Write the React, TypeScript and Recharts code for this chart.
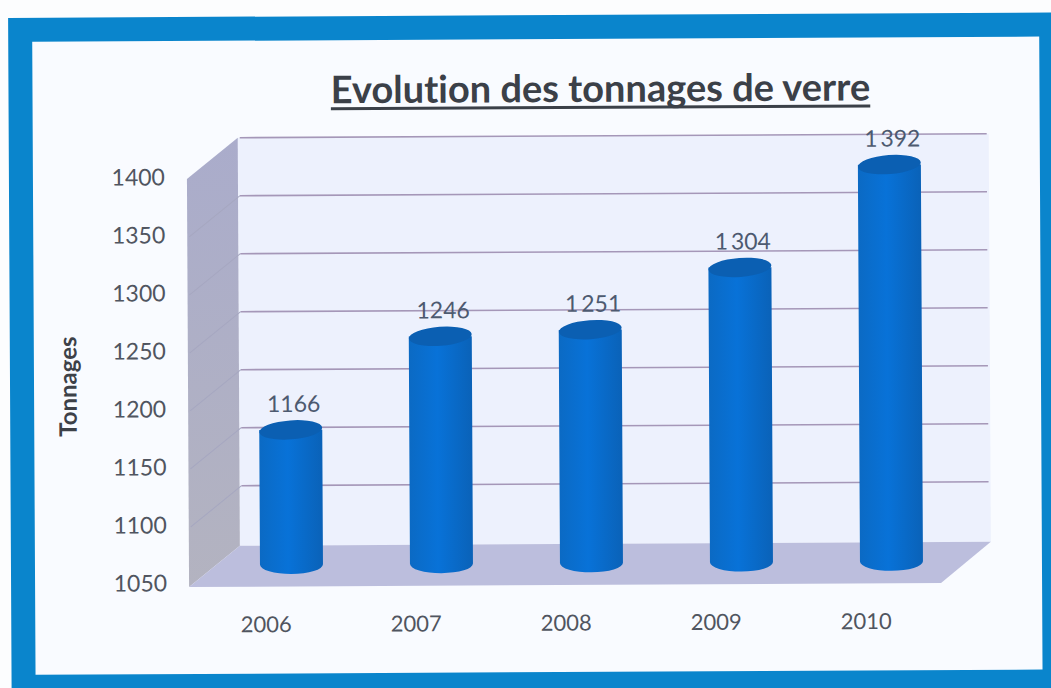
import { BarChart, Bar, XAxis, YAxis, CartesianGrid, LabelList } from 'recharts';

const years = ['2006', '2007', '2008', '2009', '2010'];
const tonnages = [1166, 1246, 1251, 1304, 1392];
const valueLabels = ['1166', '1246', '1 251', '1 304', '1 392'];
const yTicks = [1050, 1100, 1150, 1200, 1250, 1300, 1350, 1400];

const data = years.map((year, i) => ({ year, tonnage: tonnages[i], label: valueLabels[i] }));

const FONT = 'Lato, "Open Sans", sans-serif';
const DEPTH_X = 51;
const DEPTH_Y = 41;
const BAR_DX = 25;
const BAR_DY = 20;

// 3D look: grid lines run along the side wall and then across the back wall
function GridLine(props: any) {
  const { x1, x2, y1, index } = props;
  return (
    <g key={index}>
      {y1 > 180 && y1 < 580 && <line x1={x1} y1={y1} x2={x1 + DEPTH_X} y2={y1 - DEPTH_Y} stroke="#a6a7c0" strokeWidth={1} />}
      {y1 < 580 && <line x1={x1 + DEPTH_X} y1={y1 - DEPTH_Y} x2={x2 + 48} y2={y1 - DEPTH_Y} stroke="#a597b8" strokeWidth={1.6} />}
    </g>
  );
}

function Cylinder(props: any) {
  const { x, y, width, height, index } = props;
  const left = x + BAR_DX;
  const right = left + width;
  const top = y - BAR_DY;
  const bottom = y + height - BAR_DY;
  const rx = width / 2;
  const ry = 9.5;
  const id = `cyl-${index}`;
  return (
    <g>
      <defs>
        <linearGradient id={id} x1="0" x2="1" y1="0" y2="0">
          <stop offset="0" stopColor="#0b6ac4" />
          <stop offset="0.45" stopColor="#0872d8" />
          <stop offset="1" stopColor="#0a62b8" />
        </linearGradient>
      </defs>
      <path
        d={`M${left} ${top} L${left} ${bottom} A${rx} ${ry} 0 0 0 ${right} ${bottom} L${right} ${top} Z`}
        fill={`url(#${id})`}
      />
      <ellipse cx={left + rx} cy={top} rx={rx} ry={ry} fill="#0b5fb2" transform={`rotate(-4 ${left + rx} ${top})`} />
    </g>
  );
}

function ValueLabel(props: any) {
  const { x, y, width, value } = props;
  return (
    <text
      x={x + width / 2 + BAR_DX + 3}
      y={y - 38}
      textAnchor="middle"
      fontFamily={FONT}
      fontSize={23}
      wordSpacing={-3}
      fill="#4d5a70"
    >
      {value}
    </text>
  );
}

export default function App() {
  return (
    <div style={{ position: 'absolute', left: 0, top: 0, width: 1051, height: 688, overflow: 'hidden', background: '#fcfdfe' }}>
      <div style={{ position: 'absolute', left: 0, top: 0, width: 1051, height: 688, transform: 'rotate(-0.3deg)', transformOrigin: '566px 380px' }}>
        <div
          style={{
            position: 'absolute',
            left: 10,
            top: 15,
            width: 1007,
            height: 633,
            background: '#f9fbff',
            borderStyle: 'solid',
            borderColor: '#0a85cc',
            borderWidth: '24px 30px 40px 24px',
          }}
        />
        <svg width={1051} height={688} style={{ position: 'absolute', left: 0, top: 0 }}>
          <defs>
            <linearGradient id="side" x1="0" x2="0" y1="0" y2="1">
              <stop offset="0" stopColor="#aaaccb" />
              <stop offset="1" stopColor="#b3b3c0" />
            </linearGradient>
          </defs>
          <polygon points="239,136 990,136 990,544 239,544" fill="#edf1fd" />
          <polygon points="188,177 239,136 239,544 188,585" fill="url(#side)" />
          <polygon points="188,585 239,544 990,544 940,585" fill="#bcbedd" />
        </svg>
        <div
          style={{
            position: 'absolute',
            left: 190,
            width: 824,
            top: 64,
            textAlign: 'center',
            fontFamily: FONT,
            fontWeight: 700,
            fontSize: 38,
            lineHeight: '46px',
            color: '#3b4048',
            fontVariantLigatures: 'none',
            textDecoration: 'underline',
            textDecorationThickness: 3,
            textDecorationSkipInk: 'none',
            textUnderlineOffset: 4,
          }}
        >
          Evolution des tonnages de verre
        </div>
        <div style={{ position: 'absolute', left: 0, top: 0 }}>
          <BarChart
            width={1051}
            height={688}
            data={data}
            margin={{ top: 177, right: 111, bottom: 45, left: 50 }}
            barSize={63}
          >
            <CartesianGrid vertical={false} horizontal={GridLine as any} />
            <XAxis
              dataKey="year"
              axisLine={false}
              tickLine={false}
              height={60}
              tickMargin={26}
              tick={{ fontFamily: FONT, fontSize: 22, fill: '#505560' }}
            />
            <YAxis
              domain={[1050, 1400]}
              ticks={yTicks}
              axisLine={false}
              tickLine={false}
              width={140}
              tickMargin={18}
              tick={{ fontFamily: FONT, fontSize: 23, fill: '#505560', dy: -2 }}
              label={{
                value: 'Tonnages',
                angle: -90,
                position: 'insideLeft',
                offset: 18,
                dy: 4,
                style: { fontFamily: FONT, fontSize: 24, fontWeight: 700, fill: '#3d4148', textAnchor: 'middle' },
              }}
            />
            <Bar dataKey="tonnage" isAnimationActive={false} shape={<Cylinder />}>
              <LabelList dataKey="label" content={<ValueLabel />} />
            </Bar>
          </BarChart>
        </div>
      </div>
    </div>
  );
}
